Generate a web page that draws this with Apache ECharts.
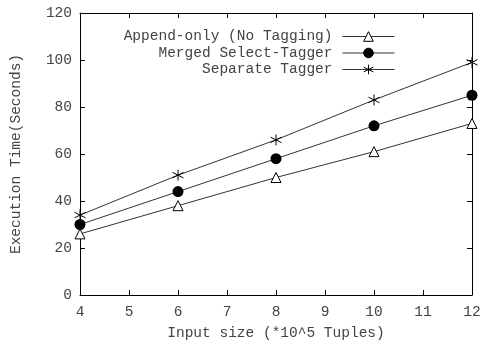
<!DOCTYPE html>
<html>
<head>
<meta charset="utf-8">
<script src="https://cdn.jsdelivr.net/npm/echarts@6/dist/echarts.min.js"></script>
<style>
  html, body { margin: 0; padding: 0; background: #fff; }
  #chart { width: 485px; height: 346px; }
</style>
</head>
<body>
<div id="chart"></div>
<script>
// input size (*10^5 tuples)
const inputSizes = [4, 6, 8, 10, 12];
// execution time in seconds
const appendOnly = [26, 38, 50, 61, 73];
const mergedTagger = [30, 44, 58, 72, 85];
const separateTagger = [34, 51, 66, 83, 99];
const seriesNames = ['Append-only (No Tagging)', 'Merged Select-Tagger', 'Separate Tagger'];

const font = 'Liberation Mono';
const txt = '#444';
const asterisk = 'path://M0,-5L0,5M-4.33,-2.5L4.33,2.5M-4.33,2.5L4.33,-2.5';

const pairs = (ys) => inputSizes.map((x, i) => [x, ys[i]]);

let myChart = echarts.init(document.getElementById('chart'));

// ticks inside, mirrored on top/right like gnuplot
const axisBase = {
    axisLine: { show: true, onZero: false, lineStyle: { color: '#000', width: 1 } },
    axisTick: { show: true, inside: true, length: 5, lineStyle: { color: '#000' } },
    splitLine: { show: false }
};

let option = {
    animation: false,
    grid: { left: 80, right: 13, top: 13, bottom: 51 },
    legend: {
        orient: 'vertical',
        align: 'right',
        right: 90,
        top: 29,
        padding: 0,
        itemWidth: 52,
        itemHeight: 12,
        itemGap: 1.5,
        lineStyle: { width: 1 },
        itemStyle: { borderWidth: 1 },
        textStyle: { fontFamily: font, fontSize: 14.5, lineHeight: 14, color: txt, padding: [0, 5, 0, 0] },
        data: seriesNames
    },
    xAxis: [
        Object.assign({}, axisBase, {
            type: 'value', min: 4, max: 12, interval: 1, position: 'bottom',
            name: 'Input size (*10^5 Tuples)',
            nameLocation: 'middle', nameGap: 31,
            nameTextStyle: { fontFamily: font, fontSize: 14.5, color: txt },
            axisLabel: { fontFamily: font, fontSize: 14.5, color: txt, margin: 10 }
        }),
        Object.assign({}, axisBase, {
            type: 'value', min: 4, max: 12, interval: 1, position: 'top',
            axisLabel: { show: false }
        })
    ],
    yAxis: [
        Object.assign({}, axisBase, {
            type: 'value', min: 0, max: 120, interval: 20, position: 'left',
            name: 'Execution Time(Seconds)',
            nameLocation: 'middle', nameGap: 56,
            nameTextStyle: { fontFamily: font, fontSize: 14.5, color: txt },
            axisLabel: { fontFamily: font, fontSize: 14.5, color: txt, margin: 8 }
        }),
        Object.assign({}, axisBase, {
            type: 'value', min: 0, max: 120, interval: 20, position: 'right',
            axisLabel: { show: false }
        })
    ],
    series: [
        {
            name: seriesNames[0], type: 'line', data: pairs(appendOnly),
            symbol: 'triangle', symbolSize: 10,
            itemStyle: { color: '#fff', borderColor: '#000', borderWidth: 1 },
            lineStyle: { color: '#333', width: 1 }
        },
        {
            name: seriesNames[1], type: 'line', data: pairs(mergedTagger),
            symbol: 'circle', symbolSize: 11,
            itemStyle: { color: '#000', borderColor: '#000', borderWidth: 0 },
            lineStyle: { color: '#333', width: 1 }
        },
        {
            name: seriesNames[2], type: 'line', data: pairs(separateTagger),
            symbol: asterisk, symbolSize: 11,
            itemStyle: { color: '#000', borderColor: '#000', borderWidth: 1 },
            lineStyle: { color: '#333', width: 1 }
        }
    ]
};

option && myChart.setOption(option);
</script>
</body>
</html>
